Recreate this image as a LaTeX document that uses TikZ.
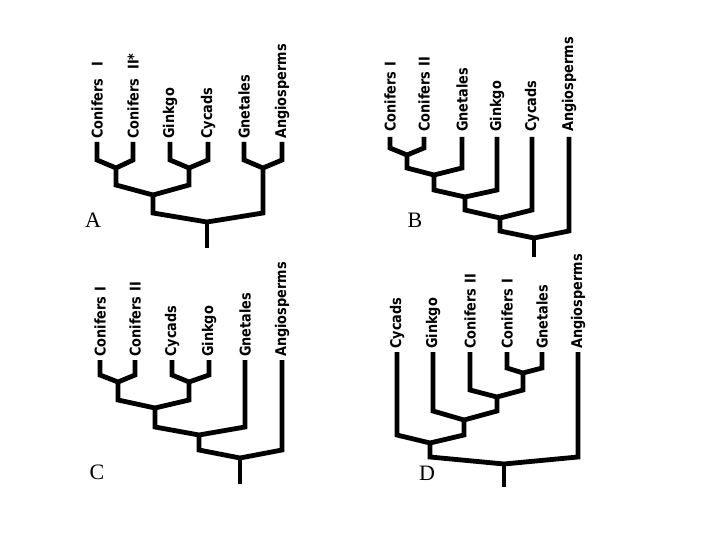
\documentclass[tikz,border=0pt]{standalone}
\usepackage{fontspec}
\setmainfont{Liberation Serif}
\newfontfamily\labfont{DejaVu Sans}[FakeStretch=0.87, BoldFeatures={FakeStretch=0.87}]
\usetikzlibrary{calc}
\tikzset{
  br/.style={line width=4.8pt, line join=miter, line cap=butt, draw=black},
  lab/.style={rotate=90, anchor=west, inner sep=0pt, font=\labfont\bfseries\fontsize{14.8}{16}\selectfont},
  plet/.style={font=\fontsize{22}{24}\selectfont, inner sep=0pt}
}
\newcommand\treejoin[5]{%
  \draw[br] (#1) -- ($(#1 |- #2)+(0,-#4)$) -- (#2) -- ($(#3 |- #2)+(0,-#5)$) -- (#3);}
\begin{document}
\begin{tikzpicture}[x=1pt,y=-1pt]
\useasboundingbox (0,0) rectangle (720,540);
\fill[white] (0,0) rectangle (720,540);

% ---------- Panel A ----------
\coordinate (aCI) at (97,142);
\coordinate (aCII) at (133,142);
\coordinate (aGi) at (170,142);
\coordinate (aCy) at (208,142);
\coordinate (aGn) at (244,142);
\coordinate (aAn) at (282,142);
\coordinate (a1) at (116,168);
\coordinate (a2) at (189,168);
\coordinate (a3) at (263,168);
\coordinate (a12) at (153,195);
\coordinate (aR) at (207,222);
\coordinate (aE) at (207,248);
\node[lab] (laCI) at ($(aCI)+(0,-3)$) {Conifers\hspace{0.8em}I};
\node[lab] (laCII) at ($(aCII)+(0,-3)$) {Conifers\hspace{0.6em}II*};
\node[lab] (laGi) at ($(aGi)+(0,-3)$) {Ginkgo};
\node[lab] (laCy) at ($(aCy)+(0,-3)$) {Cycads};
\node[lab] (laGn) at ($(aGn)+(0,-3)$) {Gnetales};
\node[lab] (laAn) at ($(aAn)+(0,-3)$) {Angiosperms};
\treejoin{aCI}{a1}{aCII}{8}{8}
\treejoin{aGi}{a2}{aCy}{8}{8}
\treejoin{aGn}{a3}{aAn}{8}{8}
\treejoin{a1}{a12}{a2}{10}{10}
\treejoin{a12}{aR}{a3}{9}{9}
\draw[br] (aR) -- (aE);
\node[plet] (pA) at (93,220) {A};

% ---------- Panel B ----------
\coordinate (bCI) at (390,137);
\coordinate (bCII) at (424,137);
\coordinate (bGn) at (462,137);
\coordinate (bGi) at (497,137);
\coordinate (bCy) at (532,137);
\coordinate (bAn) at (569,137);
\coordinate (b1) at (407,155);
\coordinate (b2) at (434,175);
\coordinate (b3) at (465,197);
\coordinate (b4) at (500,218);
\coordinate (bR) at (534,238);
\coordinate (bE) at (534,257);
\node[lab] (lbCI) at ($(bCI)+(0,-5)$) {Conifers\hspace{0.35em}I};
\node[lab] (lbCII) at ($(bCII)+(0,-5)$) {Conifers\hspace{0.35em}II};
\node[lab] (lbGn) at ($(bGn)+(0,-5)$) {Gnetales};
\node[lab] (lbGi) at ($(bGi)+(0,-5)$) {Ginkgo};
\node[lab] (lbCy) at ($(bCy)+(0,-5)$) {Cycads};
\node[lab] (lbAn) at ($(bAn)+(0,-5)$) {Angiosperms};
\treejoin{bCI}{b1}{bCII}{7}{7}
\treejoin{b1}{b2}{bGn}{7}{7}
\treejoin{b2}{b3}{bGi}{7}{7}
\treejoin{b3}{b4}{bCy}{8}{8}
\treejoin{b4}{bR}{bAn}{7}{7}
\draw[br] (bR) -- (bE);
\node[plet] (pB) at (415,220) {B};

% ---------- Panel C ----------
\coordinate (cCI) at (100,360);
\coordinate (cCII) at (135,360);
\coordinate (cCy) at (172,360);
\coordinate (cGi) at (209,360);
\coordinate (cGn) at (245,360);
\coordinate (cAn) at (282,360);
\coordinate (c1) at (118,382);
\coordinate (c2) at (189,382);
\coordinate (c12) at (155,408);
\coordinate (c3) at (199,435);
\coordinate (cR) at (240,458);
\coordinate (cE) at (240,484);
\node[lab] (lcCI) at ($(cCI)+(0,-3)$) {Conifers\hspace{0.35em}I};
\node[lab] (lcCII) at ($(cCII)+(0,-3)$) {Conifers\hspace{0.35em}II};
\node[lab] (lcCy) at ($(cCy)+(0,-3)$) {Cycads};
\node[lab] (lcGi) at ($(cGi)+(0,-3)$) {Ginkgo};
\node[lab] (lcGn) at ($(cGn)+(0,-3)$) {Gnetales};
\node[lab] (lcAn) at ($(cAn)+(0,-3)$) {Angiosperms};
\treejoin{cCI}{c1}{cCII}{7}{7}
\treejoin{cCy}{c2}{cGi}{7}{7}
\treejoin{c1}{c12}{c2}{8}{8}
\treejoin{c12}{c3}{cGn}{8}{8}
\treejoin{c3}{cR}{cAn}{8}{8}
\draw[br] (cR) -- (cE);
\node[plet] (pC) at (97,472) {C};

% ---------- Panel D ----------
\coordinate (dCy) at (397,352);
\coordinate (dGi) at (433,352);
\coordinate (dCII) at (470,352);
\coordinate (dCI) at (507,352);
\coordinate (dGn) at (542,352);
\coordinate (dAn) at (578,352);
\coordinate (d1) at (523,373);
\coordinate (d2) at (497,397);
\coordinate (d3) at (464,420);
\coordinate (d4) at (430,443);
\coordinate (dR) at (504,464);
\coordinate (dE) at (504,487);
\node[lab] (ldCy) at ($(dCy)+(0,-3)$) {Cycads};
\node[lab] (ldGi) at ($(dGi)+(0,-3)$) {Ginkgo};
\node[lab] (ldCII) at ($(dCII)+(0,-3)$) {Conifers\hspace{0.35em}II};
\node[lab] (ldCI) at ($(dCI)+(0,-3)$) {Conifers\hspace{0.35em}I};
\node[lab] (ldGn) at ($(dGn)+(0,-3)$) {Gnetales};
\node[lab] (ldAn) at ($(dAn)+(0,-3)$) {Angiosperms};
\treejoin{dCI}{d1}{dGn}{5}{5}
\treejoin{dCII}{d2}{d1}{7}{7}
\treejoin{dGi}{d3}{d2}{9}{9}
\treejoin{dCy}{d4}{d3}{8}{8}
\treejoin{d4}{dR}{dAn}{7}{7}
\draw[br] (dR) -- (dE);
\node[plet] (pD) at (427,473) {D};
\end{tikzpicture}
\end{document}
